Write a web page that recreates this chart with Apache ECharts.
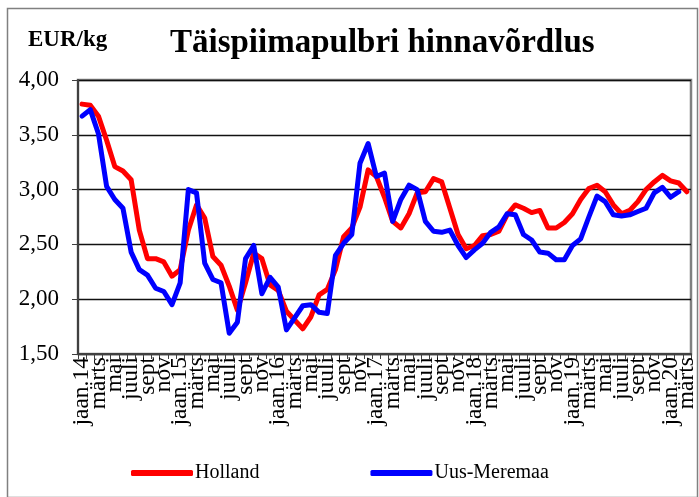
<!DOCTYPE html>
<html>
<head>
<meta charset="utf-8">
<script src="https://cdn.jsdelivr.net/npm/echarts@6/dist/echarts.min.js"></script>
<style>
html,body{margin:0;padding:0;background:#fff;}
#chart{width:699px;height:497px;}
</style>
</head>
<body>
<div id="chart"></div>
<script>
const monthNames = ['jaan.', 'veebr', 'märts', 'apr', 'mai', 'juuni', 'juuli', 'aug', 'sept', 'okt', 'nov', 'dets'];
const years = ['14', '15', '16', '17', '18', '19', '20'];
const monthCount = 75;
const yTicks = [1.5, 2.0, 2.5, 3.0, 3.5, 4.0];

const holland = [3.78, 3.77, 3.67, 3.45, 3.21, 3.17, 3.09, 2.63, 2.37, 2.37, 2.34, 2.21,
  2.27, 2.63, 2.86, 2.74, 2.39, 2.31, 2.12, 1.90, 2.15, 2.42, 2.37, 2.13,
  2.08, 1.89, 1.81, 1.73, 1.84, 2.04, 2.09, 2.27, 2.57, 2.65, 2.84, 3.18,
  3.12, 2.93, 2.71, 2.65, 2.78, 2.97, 2.98, 3.10, 3.07, 2.83, 2.59, 2.46,
  2.49, 2.58, 2.59, 2.62, 2.77, 2.86, 2.83, 2.79, 2.81, 2.65, 2.65, 2.70,
  2.78, 2.91, 3.01, 3.04, 2.98, 2.86, 2.78, 2.81, 2.89, 3.00, 3.07, 3.13,
  3.08, 3.06, 2.98];
const uusMeremaa = [3.67, 3.73, 3.51, 3.03, 2.91, 2.83, 2.43, 2.27, 2.22, 2.10, 2.07, 1.95,
  2.15, 3.00, 2.97, 2.33, 2.18, 2.15, 1.69, 1.79, 2.37, 2.49, 2.05, 2.20,
  2.11, 1.72, 1.83, 1.94, 1.95, 1.88, 1.87, 2.40, 2.51, 2.59, 3.24, 3.42,
  3.12, 3.15, 2.71, 2.91, 3.04, 3.00, 2.71, 2.62, 2.61, 2.63, 2.49, 2.38,
  2.45, 2.51, 2.61, 2.66, 2.78, 2.77, 2.59, 2.54, 2.43, 2.42, 2.36, 2.36,
  2.49, 2.55, 2.75, 2.94, 2.89, 2.77, 2.76, 2.77, 2.80, 2.83, 2.97, 3.02,
  2.93, 2.98];

const categories = [];
for (let i = 0; i < monthCount; i++) {
  const m = i % 12;
  const y = years[Math.floor(i / 12)];
  categories.push(m === 0 ? monthNames[0] + y : monthNames[m]);
}

const FONT = '"Liberation Serif", "Times New Roman", serif';
const chart = echarts.init(document.getElementById('chart'), null, {renderer: 'canvas'});
chart.setOption({
  animation: false,
  backgroundColor: '#fff',
  textStyle: {fontFamily: FONT, color: '#000'},
  graphic: [
    {type: 'rect', left: 5, top: 6, shape: {width: 690, height: 489},
      style: {fill: 'none', stroke: '#808080', lineWidth: 1.5}, silent: true, z: -1},
    {type: 'text', left: 170, top: 27,
      style: {text: 'Täispiimapulbri hinnavõrdlus', font: 'bold 33px ' + FONT, fill: '#000'}},
    {type: 'text', left: 28, top: 29,
      style: {text: 'EUR/kg', font: 'bold 23px ' + FONT, fill: '#000'}}
  ],
  grid: {left: 78, right: 8, top: 80, bottom: 143, show: true, borderColor: '#808080', borderWidth: 2.5, containLabel: false},
  legend: {
    bottom: 9, left: 126,
    itemWidth: 62, itemHeight: 6, itemGap: 111,
    icon: 'roundRect',
    textStyle: {fontFamily: FONT, fontSize: 20, color: '#000', padding: [0, 0, 0, -3]},
    data: ['Holland', 'Uus-Meremaa']
  },
  xAxis: {
    type: 'category',
    data: categories,
    boundaryGap: true,
    axisLine: {lineStyle: {color: '#404040', width: 2}},
    axisTick: {show: true, interval: 0, length: 5, lineStyle: {color: '#404040', width: 1}},
    axisLabel: {interval: 0, rotate: 90, fontFamily: FONT, fontSize: 23.5, color: '#000', margin: 3,
      formatter: (v, i) => (i % 2 === 0 ? v : '')},
    splitLine: {show: false}
  },
  yAxis: {
    type: 'value',
    min: yTicks[0], max: yTicks[yTicks.length - 1], interval: 0.5,
    axisLine: {show: true, lineStyle: {color: '#404040', width: 2}},
    axisTick: {show: true, length: 6, lineStyle: {color: '#404040', width: 1}},
    axisLabel: {fontFamily: FONT, fontSize: 23, color: '#000', margin: 19,
      formatter: v => v.toFixed(2).replace('.', ',')},
    splitLine: {show: true, lineStyle: {color: '#111', width: 1.3}}
  },
  series: [
    {name: 'Holland', type: 'line', data: holland, showSymbol: false, symbol: 'none',
      color: '#FF0000', lineStyle: {color: '#FF0000', width: 5, join: 'round', cap: 'round'}},
    {name: 'Uus-Meremaa', type: 'line', data: uusMeremaa, showSymbol: false, symbol: 'none',
      color: '#0000FF', lineStyle: {color: '#0000FF', width: 5, join: 'round', cap: 'round'}}
  ]
});
</script>
</body>
</html>
